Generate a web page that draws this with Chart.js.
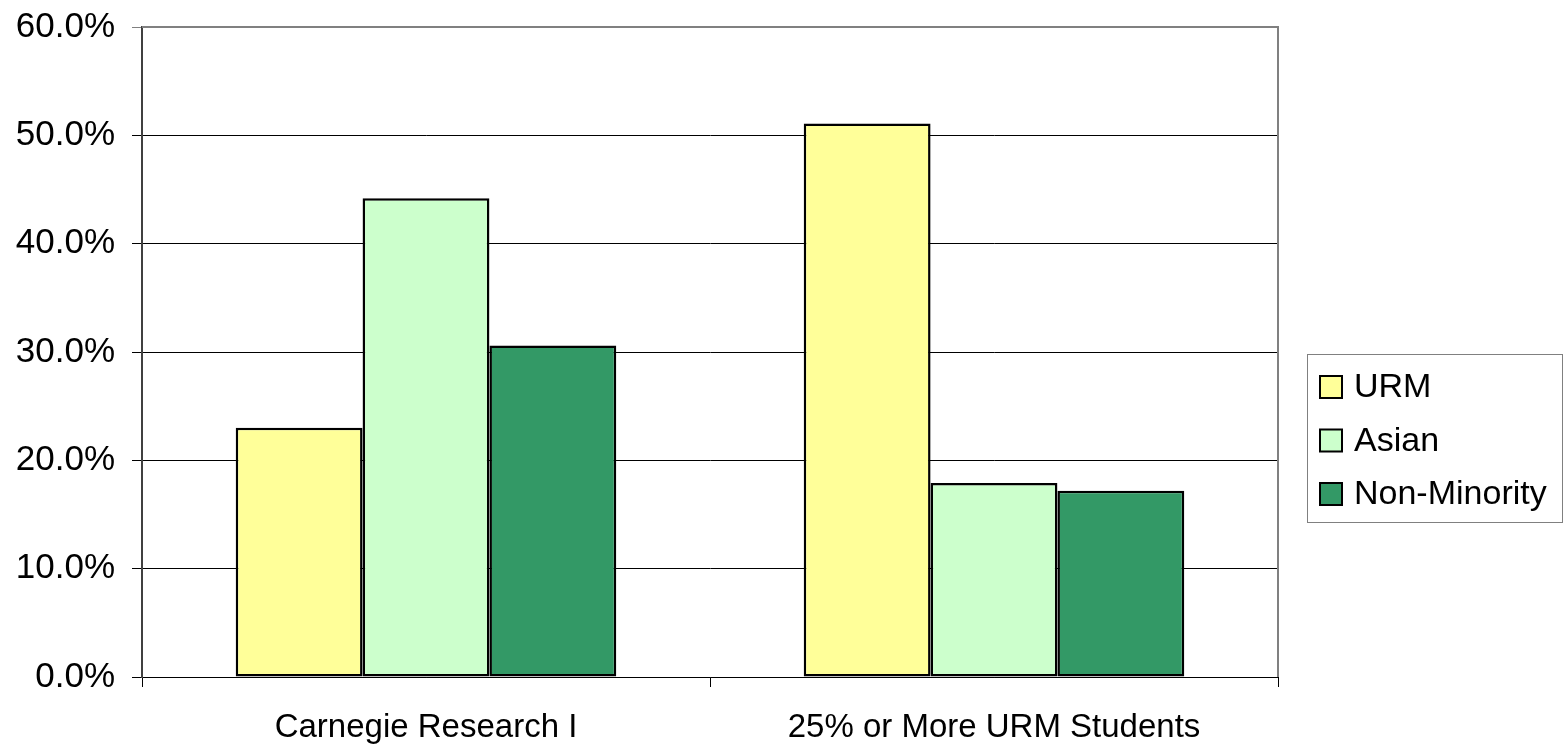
<!DOCTYPE html>
<html>
<head>
<meta charset="utf-8">
<script src="https://cdn.jsdelivr.net/npm/chart.js@4"></script>
<style>
  html, body { margin: 0; padding: 0; background: #fff; }
  #wrap { width: 1564px; height: 747px; }
</style>
</head>
<body>
<div id="wrap"><canvas id="bar-chart" width="1564" height="747"></canvas></div>
<script>
const categories = ["Carnegie Research I", "25% or More URM Students"];
const urmValues = [23.0, 51.1];
const asianValues = [44.2, 17.9];
const nonMinorityValues = [30.6, 17.2];
const seriesNames = ["URM", "Asian", "Non-Minority"];
const seriesColors = ["#FFFF99", "#CCFFCC", "#339966"];

const FONT = "'Liberation Sans', Arial, sans-serif";

// plot border (grey top/right) and the boxed legend on the right
const frameAndLegend = {
  id: 'frameAndLegend',
  afterDraw(chart) {
    const { ctx, chartArea } = chart;
    ctx.save();
    ctx.strokeStyle = '#808080';
    ctx.lineWidth = 2;
    ctx.beginPath();
    ctx.moveTo(chartArea.left, chartArea.top);
    ctx.lineTo(chartArea.right, chartArea.top);
    ctx.lineTo(chartArea.right, chartArea.bottom);
    ctx.stroke();

    // legend
    const boxX = chartArea.right + 29, boxY = 354, boxW = 255, boxH = 168;
    ctx.lineWidth = 1;
    ctx.strokeStyle = '#808080';
    ctx.strokeRect(boxX + 0.5, boxY + 0.5, boxW, boxH);
    ctx.font = '34px ' + FONT;
    ctx.textBaseline = 'middle';
    chart.data.datasets.forEach((ds, i) => {
      const cy = 387 + i * 53.5;
      ctx.fillStyle = ds.backgroundColor;
      ctx.fillRect(boxX + 13, cy - 11, 22, 22);
      ctx.lineWidth = 2;
      ctx.strokeStyle = '#000';
      ctx.strokeRect(boxX + 13, cy - 11, 22, 22);
      ctx.fillStyle = '#000';
      ctx.fillText(ds.label, boxX + 47, cy + 1);
    });
    ctx.restore();
  }
};

new Chart(document.getElementById("bar-chart"), {
  type: "bar",
  data: {
    labels: categories,
    datasets: [urmValues, asianValues, nonMinorityValues].map((vals, i) => ({
      label: seriesNames[i],
      data: vals,
      backgroundColor: seriesColors[i],
      borderColor: '#000',
      borderWidth: 2.5,
      borderSkipped: false,
      categoryPercentage: 0.67,
      barPercentage: 1.0
    }))
  },
  options: {
    responsive: false,
    animation: false,
    layout: { padding: { top: 27, right: 286, left: 0, bottom: 0 } },
    plugins: {
      legend: { display: false },
      tooltip: { enabled: false }
    },
    scales: {
      x: {
        afterFit(scale) { scale.height = 70; },
        grid: {
          offset: true,
          drawOnChartArea: false,
          color: '#000',
          tickLength: 10
        },
        border: { color: '#000', width: 1 },
        ticks: {
          color: '#000',
          font: { family: FONT, size: 33 },
          padding: 21
        }
      },
      y: {
        min: 0,
        max: 60,
        afterFit(scale) {
          scale.width = 142;
          scale.paddingTop = 0;
          scale.paddingBottom = 0;
        },
        grid: {
          color: ctx => (ctx.tick && ctx.tick.value === 60) ? '#808080' : '#000',
          lineWidth: 1,
          tickLength: 10
        },
        border: { color: '#404040', width: 2 },
        ticks: {
          stepSize: 10,
          color: '#000',
          padding: 17,
          font: { family: FONT, size: 35 },
          callback: v => v.toFixed(1) + '%'
        }
      }
    }
  },
  plugins: [frameAndLegend]
});
</script>
</body>
</html>
